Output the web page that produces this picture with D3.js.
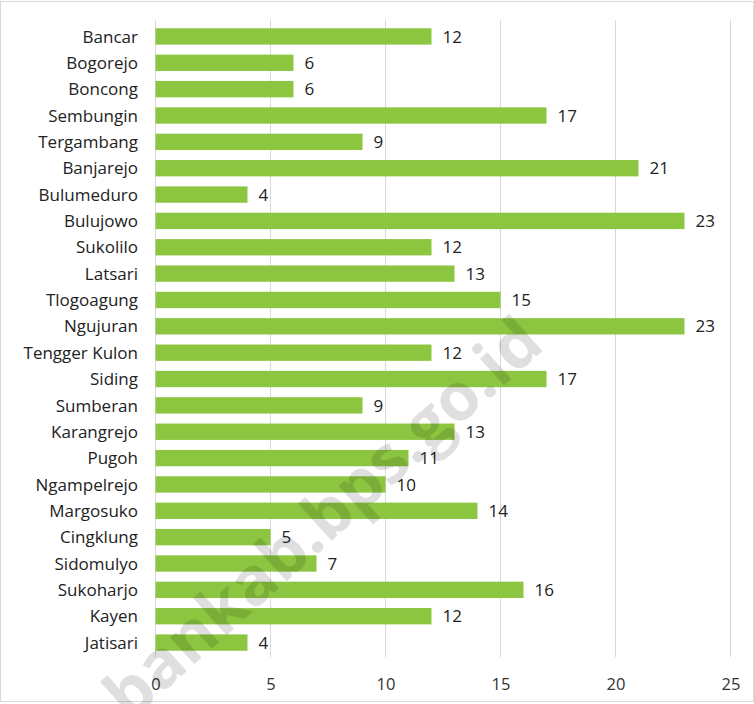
<!DOCTYPE html>
<html><head><meta charset="utf-8">
<script src="https://cdn.jsdelivr.net/npm/d3@7"></script>
<style>body{margin:0;background:#fff}svg{display:block}</style>
</head><body>
<script>
const categories = ["Bancar","Bogorejo","Boncong","Sembungin","Tergambang","Banjarejo","Bulumeduro","Bulujowo","Sukolilo","Latsari","Tlogoagung","Ngujuran","Tengger Kulon","Siding","Sumberan","Karangrejo","Pugoh","Ngampelrejo","Margosuko","Cingklung","Sidomulyo","Sukoharjo","Kayen","Jatisari"];
const values = [12,6,6,17,9,21,4,23,12,13,15,23,12,17,9,13,11,10,14,5,7,16,12,4];
const xTicks = [0,5,10,15,20,25];

const W=754,H=704;
const svg=d3.select("body").append("svg").attr("width",W).attr("height",H);
svg.append("rect").attr("x",0.5).attr("y",1.5).attr("width",W-1).attr("height",H-4).attr("fill","#fff").attr("stroke","#d9d9d9");

const x=d3.scaleLinear().domain([0,25]).range([155.5,730.5]);
const y=d3.scaleBand().domain(categories).range([23,656]).paddingInner(0.38).paddingOuter(0.2);
const font="'Open Sans', sans-serif";

svg.append("g").selectAll("line").data(xTicks).join("line")
  .attr("x1",d=>x(d)).attr("x2",d=>x(d)).attr("y1",20).attr("y2",657)
  .attr("stroke","#d9d9d9").attr("stroke-width",1);

const xa=svg.append("g").attr("transform","translate(0,657)").call(d3.axisBottom(x).tickValues(xTicks).tickSize(0).tickPadding(21));
xa.select(".domain").remove();
xa.selectAll("text").attr("font-family",font).attr("font-size",16.5).attr("fill","#333");

svg.append("g").selectAll("rect").data(categories).join("rect")
  .attr("x",x(0)).attr("y",d=>y(d)).attr("height",y.bandwidth())
  .attr("width",(d,i)=>x(values[i])-x(0)).attr("fill","#8cc641");

svg.append("g").selectAll("text").data(categories).join("text")
  .attr("x",138).attr("y",d=>y(d)+y.bandwidth()/2).attr("dy","0.36em")
  .attr("text-anchor","end").attr("font-family",font).attr("font-size",17).attr("fill","#222").text(d=>d);

svg.append("g").selectAll("text").data(categories).join("text")
  .attr("x",(d,i)=>x(values[i])+11).attr("y",d=>y(d)+y.bandwidth()/2).attr("dy","0.36em")
  .attr("font-family",font).attr("font-size",17).attr("fill","#222").text((d,i)=>values[i]);

svg.append("text").attr("transform","translate(338,535) rotate(-42)")
  .attr("text-anchor","middle").attr("font-family",font).attr("font-weight","bold")
  .attr("font-size",66).attr("fill","#000").attr("opacity",0.12).text("bankab.bps.go.id");
</script>
</body></html>
